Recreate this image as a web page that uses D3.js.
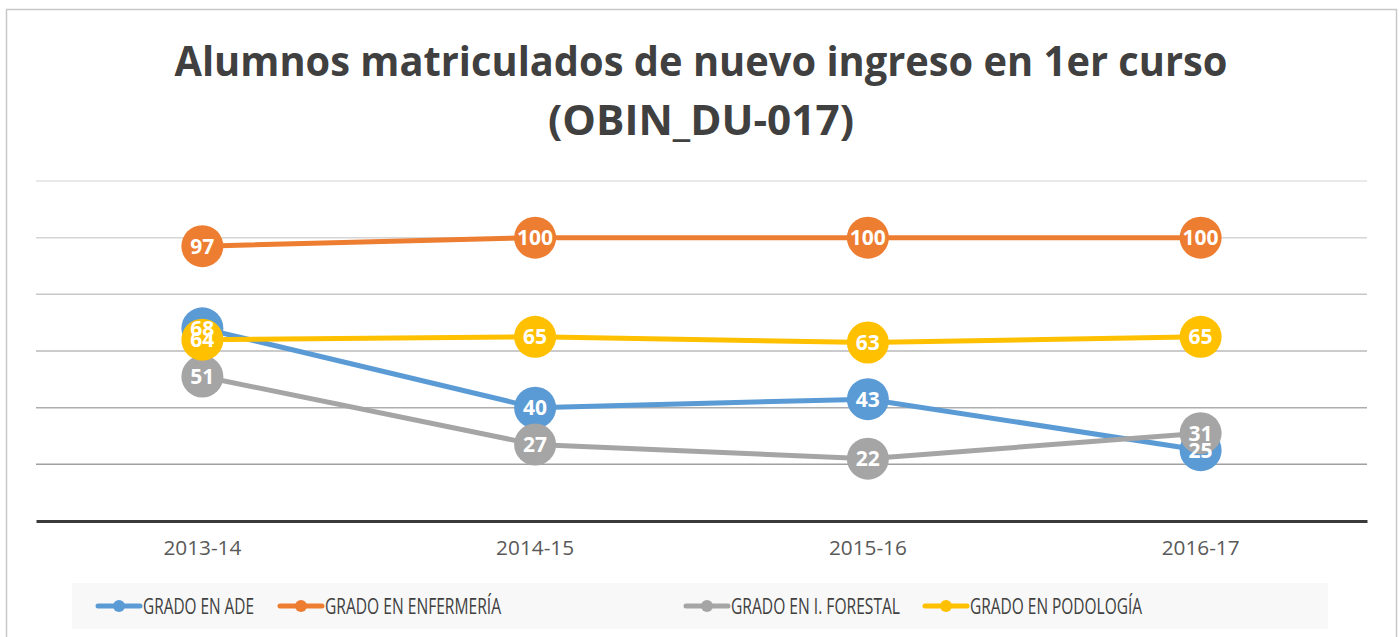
<!DOCTYPE html>
<html>
<head>
<meta charset="utf-8">
<script src="https://cdn.jsdelivr.net/npm/d3@7"></script>
<style>
  body { margin: 0; background: #fff; }
  svg { display: block; font-family: "Open Sans", "Noto Sans", sans-serif; }
</style>
</head>
<body>
<div id="chart"></div>
<script>
// data
var categories = ["2013-14", "2014-15", "2015-16", "2016-17"];
var seriesNames = ["GRADO EN ADE", "GRADO EN ENFERMERÍA", "GRADO EN I. FORESTAL", "GRADO EN PODOLOGÍA"];
var seriesColors = ["#5b9bd5", "#ed7d31", "#a5a5a5", "#ffc000"];
var ade = [68, 40, 43, 25];
var enfermeria = [97, 100, 100, 100];
var forestal = [51, 27, 22, 31];
var podologia = [64, 65, 63, 65];
var yTicks = [0, 20, 40, 60, 80, 100, 120];
var titleLines = ["Alumnos matriculados de nuevo ingreso en 1er curso", "(OBIN_DU-017)"];

var allValues = [ade, enfermeria, forestal, podologia];
var series = seriesNames.map(function(n, i) {
  return { name: n, color: seriesColors[i], values: allValues[i] };
});

var W = 1400, H = 637;
var plotLeft = 36, plotRight = 1367, plotTop = 181, plotBottom = 521;

var svg = d3.select("#chart").append("svg")
  .attr("width", W).attr("height", H);

// chart frame
svg.append("rect")
  .attr("x", 6.5).attr("y", 9.5)
  .attr("width", 1390).attr("height", 660)
  .attr("fill", "#fff")
  .attr("stroke", "#c8c8c8")
  .attr("stroke-width", 1.5);

// title
var titleWidths = [1053, 306];
svg.selectAll(".title").data(titleLines).enter()
  .append("text")
  .attr("class", "title")
  .attr("x", 701)
  .attr("y", function(d, i) { return 76 + i * 59; })
  .attr("text-anchor", "middle")
  .attr("font-size", 41)
  .attr("font-weight", "bold")
  .attr("fill", "#404040")
  .attr("textLength", function(d, i) { return titleWidths[i]; })
  .attr("lengthAdjust", "spacingAndGlyphs")
  .text(function(d) { return d; });

var x = d3.scaleBand().domain(categories).range([plotLeft, plotRight]);
var y = d3.scaleLinear().domain([0, 120]).range([plotBottom, plotTop]);

// gridlines (lighter at top, darker at bottom)
var gridColor = d3.scaleLinear().domain([20, 120]).range(["#a0a0a0", "#e2e2e2"]);
svg.selectAll(".grid").data(yTicks.filter(function(t) { return t > 0; })).enter()
  .append("line")
  .attr("x1", plotLeft).attr("x2", plotRight)
  .attr("y1", function(d) { return y(d); })
  .attr("y2", function(d) { return y(d); })
  .attr("stroke", function(d) { return gridColor(d); })
  .attr("stroke-width", 1.5);

// x axis
var xAxis = svg.append("g")
  .attr("transform", "translate(0," + plotBottom + ")")
  .call(d3.axisBottom(x).tickSize(0).tickPadding(22));
xAxis.select(".domain").attr("stroke", "#3a3a3a").attr("stroke-width", 3);
xAxis.selectAll("text")
  .attr("font-size", 20)
  .attr("fill", "#595959")
  .attr("font-family", "Open Sans, sans-serif")
  .attr("dy", "0.62em")
  .attr("textLength", 78)
  .attr("lengthAdjust", "spacingAndGlyphs");

var line = d3.line()
  .x(function(d, i) { return x(categories[i]) + x.bandwidth() / 2; })
  .y(function(d) { return y(d); });

// lines + markers per series
series.forEach(function(s) {
  var g = svg.append("g");
  g.append("path")
    .datum(s.values)
    .attr("d", line)
    .attr("fill", "none")
    .attr("stroke", s.color)
    .attr("stroke-width", 5)
    .attr("stroke-linejoin", "round");
  g.selectAll("circle").data(s.values).enter()
    .append("circle")
    .attr("cx", function(d, i) { return x(categories[i]) + x.bandwidth() / 2; })
    .attr("cy", function(d) { return y(d); })
    .attr("r", 21)
    .attr("fill", s.color);
});

// data labels on top
series.forEach(function(s) {
  svg.append("g").selectAll("text").data(s.values).enter()
    .append("text")
    .attr("x", function(d, i) { return x(categories[i]) + x.bandwidth() / 2; })
    .attr("y", function(d) { return y(d); })
    .attr("dy", "0.36em")
    .attr("text-anchor", "middle")
    .attr("font-size", 21)
    .attr("font-weight", "bold")
    .attr("fill", "#fff")
    .text(function(d) { return d; });
});

// legend
svg.append("rect")
  .attr("x", 72).attr("y", 583)
  .attr("width", 1256).attr("height", 46)
  .attr("fill", "#f8f8f8");

var legendX = [98, 280, 686, 925];
var legendW = [111, 176, 169, 172];
var leg = svg.selectAll(".leg").data(series).enter()
  .append("g")
  .attr("transform", function(d, i) { return "translate(" + legendX[i] + ",606)"; });
leg.append("line")
  .attr("x1", 0).attr("x2", 42)
  .attr("stroke", function(d) { return d.color; })
  .attr("stroke-width", 5)
  .attr("stroke-linecap", "round");
leg.append("circle")
  .attr("cx", 21).attr("r", 6)
  .attr("fill", function(d) { return d.color; });
leg.append("text")
  .attr("x", 45)
  .attr("dy", "0.36em")
  .attr("font-size", 21)
  .attr("fill", "#404040")
  .attr("textLength", function(d, i) { return legendW[i]; })
  .attr("lengthAdjust", "spacingAndGlyphs")
  .text(function(d) { return d.name; });
</script>
</body>
</html>
